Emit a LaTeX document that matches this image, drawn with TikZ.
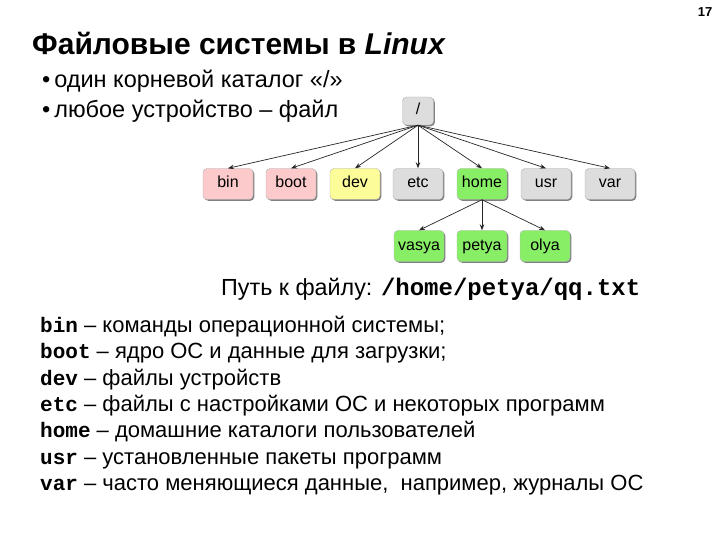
\documentclass[tikz,border=0pt]{standalone}
\usepackage{fontspec}
\setmainfont{Liberation Sans}
\setmonofont{Liberation Mono}
\usetikzlibrary{arrows.meta, shadows}
\definecolor{dirgrey}{HTML}{DDDDDD}
\definecolor{dirpink}{HTML}{FCCACA}
\definecolor{diryellow}{HTML}{FCFC98}
\definecolor{dirgreen}{HTML}{88EE66}
\newcommand{\dirname}[1]{{\ttfamily\bfseries\fontsize{21}{24}\selectfont #1}}
\tikzset{
  dirbox/.style={
    rectangle, draw=black!30, fill=dirgrey, rounded corners=4pt,
    minimum width=50pt, minimum height=31pt, inner sep=2pt,
    text height=11.5pt, text depth=3.5pt,
    font=\fontsize{16}{19}\selectfont,
    drop shadow={shadow xshift=1.3pt, shadow yshift=-1.3pt, fill=black!50, opacity=1},
  },
  rootbox/.style={dirbox, minimum width=31pt, minimum height=28pt},
  sysdir/.style={dirbox, fill=dirpink},
  devdir/.style={dirbox, fill=diryellow},
  userdir/.style={dirbox, fill=dirgreen},
  link/.style={-{Stealth[length=6pt, width=4.5pt]}, line width=0.7pt, draw=black!85},
  body/.style={anchor=base west, font=\fontsize{22}{25}\selectfont, inner sep=0pt},
}

\begin{document}
\begin{tikzpicture}[x=1pt, y=-1pt]
  \useasboundingbox (0,0) rectangle (720,540);

  \node[font=\bfseries\fontsize{13}{15}\selectfont] (pagenum) at (705,12) {17};
  \node[anchor=base west, inner sep=0pt, font=\bfseries\fontsize{30}{35}\selectfont] (title) at (32,55)
    {Файловые системы в \textit{Linux}};

  \node[body, font=\fontsize{23.5}{27}\selectfont] (item1) at (42,88) {•\,один корневой каталог «/»};
  \node[body, font=\fontsize{23.5}{27}\selectfont] (item2) at (42,118) {•\,любое устройство – файл};

  % tree
  \node[rootbox] (root) at (418,111) {/};

  \node[sysdir]  (bin)  at (228,184) {bin};
  \node[sysdir]  (boot) at (291,184) {boot};
  \node[devdir]  (dev)  at (355,184) {dev};
  \node[dirbox]  (etc)  at (418,184) {etc};
  \node[userdir] (home) at (482,184) {home};
  \node[dirbox]  (usr)  at (546,184) {usr};
  \node[dirbox]  (var)  at (610,184) {var};

  \node[userdir] (vasya) at (419,246) {vasya};
  \node[userdir] (petya) at (482,246) {petya};
  \node[userdir] (olya)  at (545,246) {olya};

  \draw[link] (root.south) -- (bin.north);
  \draw[link] (root.south) -- (boot.north);
  \draw[link] (root.south) -- (dev.north);
  \draw[link] (root.south) -- (etc.north);
  \draw[link] (root.south) -- (home.north);
  \draw[link] (root.south) -- (usr.north);
  \draw[link] (root.south) -- (var.north);

  \draw[link] (home.south) -- (vasya.north);
  \draw[link] (home.south) -- (petya.north);
  \draw[link] (home.south) -- (olya.north);

  \node[body, font=\fontsize{23.3}{27}\selectfont] (path) at (221,295)
    {Путь к файлу: {\ttfamily\bfseries\fontsize{24}{27}\selectfont /home/petya/qq.txt}};

  % explanations
  \node[body] (lbin)  at (40,332) {\dirname{bin} – команды операционной системы;};
  \node[body] (lboot) at (40,358) {\dirname{boot} – ядро ОС и данные для загрузки;};
  \node[body] (ldev)  at (40,385) {\dirname{dev} – файлы устройств};
  \node[body] (letc)  at (40,411) {\dirname{etc} – файлы с настройками ОС и некоторых программ};
  \node[body] (lhome) at (40,437) {\dirname{home} – домашние каталоги пользователей};
  \node[body] (lusr)  at (40,464) {\dirname{usr} – установленные пакеты программ};
  \node[body] (lvar)  at (40,490) {\dirname{var} – часто меняющиеся данные,~ например, журналы ОС};
\end{tikzpicture}
\end{document}
